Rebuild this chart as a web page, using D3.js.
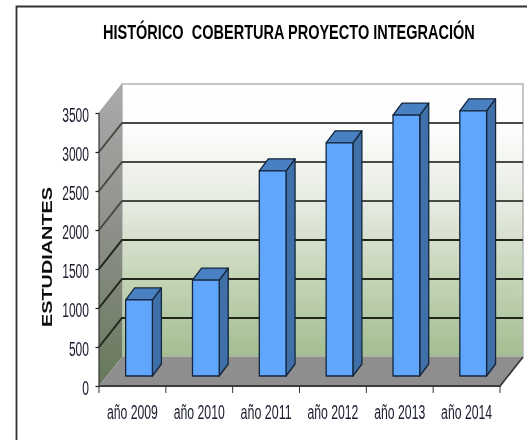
<!DOCTYPE html>
<html><head><meta charset="utf-8">
<script src="https://cdn.jsdelivr.net/npm/d3@7"></script>
<style>html,body{margin:0;padding:0;background:#fff;overflow:hidden}svg{display:block}text{font-family:"Liberation Sans",Arial,sans-serif}</style>
</head><body><script>
const categories = ["año 2009","año 2010","año 2011","año 2012","año 2013","año 2014"];
const students = [975,1230,2630,2990,3345,3400];
const yTicks = [0,500,1000,1500,2000,2500,3000,3500];
const chartTitle = "HISTÓRICO  COBERTURA PROYECTO INTEGRACIÓN";
const yTitle = "ESTUDIANTES";

const W=527,H=440, x0=99,x1=500, yBase=386,yTop=113, depthX=23,depthY=29;
const barShiftX=6.6,barShiftY=10,barDX=9,barDY=12;

const svg=d3.select("body").append("svg").attr("width",W).attr("height",H);
const defs=svg.append("defs");
const grad=(id,stops)=>{const g=defs.append("linearGradient").attr("id",id).attr("x1",0).attr("y1",0).attr("x2",0).attr("y2",1);
  stops.forEach(s=>g.append("stop").attr("offset",s[0]).attr("stop-color",s[1]));};
grad("wall",[[0,"#ffffff"],[.16,"#fdfdfc"],[.45,"#e4eadf"],[.7,"#c6d5b8"],[1,"#a3bd91"]]);
grad("side",[[0,"#ababab"],[.5,"#8c8f88"],[1,"#66785a"]]);
defs.append("filter").attr("id","soft").attr("x","-2%").attr("y","-2%").attr("width","104%").attr("height","104%")
  .append("feGaussianBlur").attr("stdDeviation",.6);

const root=svg.append("g").attr("filter","url(#soft)");
const x=d3.scaleBand().domain(categories).range([x0,x1]).paddingInner(.6).paddingOuter(.3);
const xb=d3.scaleBand().domain(categories).range([x0,x1]);
const y=d3.scaleLinear().domain([0,3500]).range([yBase,yTop]);

// squeeze a text horizontally to the width measured in the reference
function fit(node,px,py,width,extra){
  const t=d3.select(node).attr("x",0).attr("y",0).attr("dy",0);
  const s=width/node.getComputedTextLength();
  t.attr("transform",`translate(${px},${py})${extra||""} scale(${s},1)`);
}

// outer frame
root.append("path").attr("d",`M16.5,${H}V6.5H${W}`).attr("fill","none").attr("stroke","#333").attr("stroke-width",1.8);

// walls and floor
const pts=a=>a.map(p=>p.join(",")).join(" ");
root.append("rect").attr("x",x0+depthX).attr("y",y(3500)-depthY).attr("width",x1-x0).attr("height",yBase-yTop)
  .attr("fill","url(#wall)").attr("stroke","#b4b4b4").attr("stroke-width",1.5);
root.append("polygon").attr("points",pts([[x0,y(0)],[x0+depthX,y(0)-depthY],[x0+depthX,y(3500)-depthY],[x0,y(3500)]]))
  .attr("fill","url(#side)");
root.append("path").attr("d",`M${x0},${y(3500)}L${x0+depthX},${y(3500)-depthY}`).attr("stroke","#9a9a9a").attr("stroke-width",1);
root.append("polygon").attr("points",pts([[x0,y(0)],[x0+depthX,y(0)-depthY],[x1+depthX,y(0)-depthY],[x1,y(0)]]))
  .attr("fill","#8e8e8e");

// gridlines (the top of the scale is the wall's pale edge, not a gridline)
root.append("g").selectAll("path").data(yTicks.filter(d=>d>0&&d<3500)).join("path")
  .attr("d",d=>`M${x0},${y(d)}L${x0+depthX},${y(d)-depthY}H${x1+depthX}`)
  .attr("fill","none").attr("stroke",d=>d>=2000?"#4a4a46":"#23281e").attr("stroke-width",2);

// floor front edge
root.append("path").attr("d",`M${x0},${y(0)}H${x1}L${x1+depthX},${y(0)-depthY}`).attr("fill","none").attr("stroke","#3c3c3c").attr("stroke-width",1.8);
root.append("path").attr("d",`M${x0},${yTop}V${yBase}`).attr("stroke","#333").attr("stroke-width",1.2);

// bars
const bars=root.append("g").selectAll("g").data(categories.map((c,i)=>({c,v:students[i]}))).join("g")
  .attr("stroke","#14263c").attr("stroke-width",1.3).attr("stroke-linejoin","round");
const L=d=>x(d.c)+barShiftX, R=d=>L(d)+x.bandwidth(), B=()=>y(0)-barShiftY, T=d=>y(d.v)-barShiftY;
bars.append("polygon").attr("fill","#3f6fa8").attr("points",d=>pts([[R(d),B()],[R(d)+barDX,B()-barDY],[R(d)+barDX,T(d)-barDY],[R(d),T(d)]]));
bars.append("polygon").attr("fill","#4a80c2").attr("points",d=>pts([[L(d),T(d)],[L(d)+barDX,T(d)-barDY],[R(d)+barDX,T(d)-barDY],[R(d),T(d)]]));
bars.append("rect").attr("fill","#60a6fd").attr("x",L).attr("y",T).attr("width",x.bandwidth()).attr("height",d=>B()-T(d));

// axes
const yAxis=root.append("g").attr("transform",`translate(${x0},0)`)
  .call(d3.axisLeft(y).tickValues(yTicks).tickSize(3.5).tickPadding(7).tickFormat(d3.format("d")));
yAxis.select(".domain").remove();
yAxis.selectAll("line").attr("stroke","#222").attr("stroke-width",1.2);
yAxis.selectAll("text").attr("font-size",21).attr("fill","#1b1c2e").attr("text-anchor","end")
  .each(function(d){fit(this,-10,8,String(d).length*6.7);});

const xAxis=root.append("g").attr("transform",`translate(0,${yBase})`)
  .call(d3.axisBottom(xb).tickSize(0));
xAxis.select(".domain").remove();
xAxis.selectAll("text").attr("font-size",21).attr("fill","#1b1c2e")
  .each(function(){fit(this,0,33,51);});
root.append("g").selectAll("line").data([...categories.map(c=>xb(c)),x1]).join("line")
  .attr("x1",d=>d).attr("x2",d=>d).attr("y1",yBase).attr("y2",yBase+7).attr("stroke","#333").attr("stroke-width",1);

// titles
root.append("text").attr("font-size",21).attr("font-weight","bold").attr("fill","#000")
  .style("white-space","pre").text(chartTitle).each(function(){fit(this,103,39,372);});
root.append("text").attr("text-anchor","middle").attr("font-size",15).attr("font-weight","bold")
  .attr("fill","#111").text(yTitle).each(function(){fit(this,52,257,140," rotate(-90)");});
</script></body></html>
